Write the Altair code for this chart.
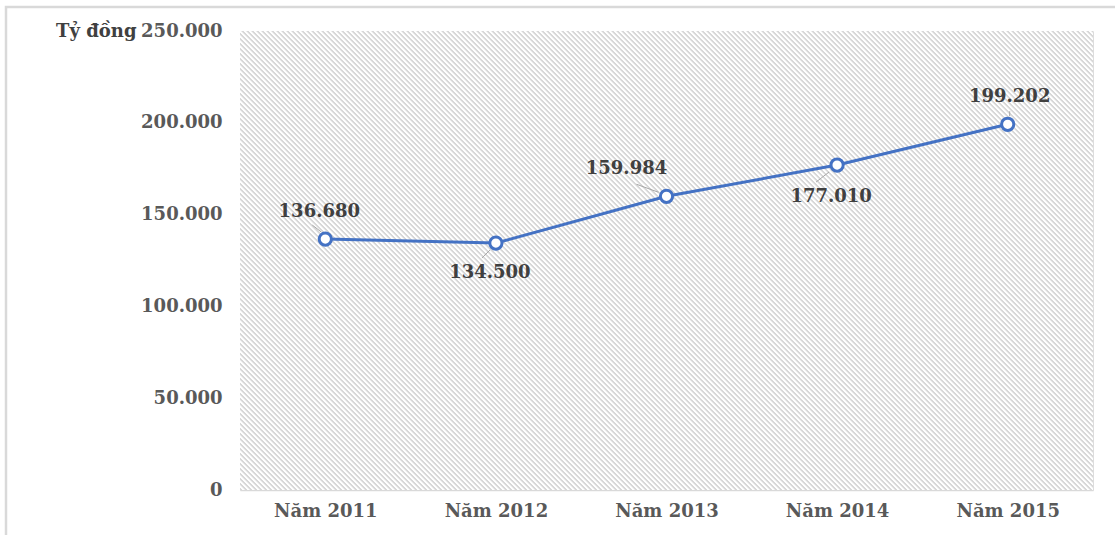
import altair as alt
import pandas as pd

years = ["Năm 2011", "Năm 2012", "Năm 2013", "Năm 2014", "Năm 2015"]
values = [136680, 134500, 159984, 177010, 199202]
labels = ["136.680", "134.500", "159.984", "177.010", "199.202"]

df = pd.DataFrame({"year": years, "value": values, "label": labels})

W, H = 853, 459
FONT = "DejaVu Serif"
BLUE = "#4472C4"

# label offsets (dx, dy) and leader line offsets (x1, y1, x2, y2) relative to point
label_off = [(-6, -27), (-6, 30), (-40, -27), (-6, 32), (2, -27)]
leader_off = [(-13, -14, -4, -7), (-14, 15, -6, 7), (-30, -12, -8, -4),
              (-21, 17, -8, 7), (2, -13, 2, -8)]

# diagonal hatch via a linear gradient (exact 5px horizontal period)
PER = 5.0
N = int((W + H) / PER) + 2
s = PER * N / (W + H * H / W)
x1g, y1g = 1.0, 0.0
x2g, y2g = 1.0 - s, s * H / W
gray, white = "#d8d8d8", "#ffffff"
stops = []
for i in range(N):
    stops += [alt.GradientStop(color=gray, offset=i / N),
              alt.GradientStop(color=gray, offset=(i + 0.2) / N),
              alt.GradientStop(color=white, offset=(i + 0.55) / N),
              alt.GradientStop(color=white, offset=(i + 0.8) / N)]
stops.append(alt.GradientStop(color=gray, offset=1.0))

one = pd.DataFrame({"a": [0]})
bg = alt.Chart(one).mark_rect(
    fill=alt.LinearGradient(gradient="linear", stops=stops,
                            x1=x1g, y1=y1g, x2=x2g, y2=y2g),
    stroke=None
).encode(x=alt.value(0), x2=alt.value(W), y=alt.value(0), y2=alt.value(H))

frame = alt.Chart(one).mark_rect(fill=None, stroke="#d9d9d9", strokeWidth=2.5, clip=False).encode(
    x=alt.value(-234), x2=alt.value(W + 60), y=alt.value(-24), y2=alt.value(H + 80)
)

xenc = alt.X("year:N", sort=years, scale=alt.Scale(type="point", padding=0.5),
             axis=alt.Axis(title=None, labelAngle=0, ticks=False, domain=True,
                           domainColor="#d9d9d9", domainWidth=1.5,
                           labelFont=FONT, labelFontSize=18, labelFontWeight="bold",
                           labelColor="#595959", labelPadding=12, grid=False))
yenc = alt.Y("value:Q", scale=alt.Scale(domain=[0, 250000], nice=False),
             axis=alt.Axis(title="Tỷ đồng", titleAngle=0, titleAlign="right",
                           titleBaseline="middle", titleX=-104, titleY=0,
                           titleFont=FONT, titleFontSize=18, titleFontWeight="bold",
                           titleColor="#404040",
                           values=[0, 50000, 100000, 150000, 200000, 250000],
                           labelExpr="replace(format(datum.value, ',d'), ',', '.')",
                           ticks=False, domain=False, grid=True,
                           gridColor="#ececec", gridWidth=1.2,
                           labelFont=FONT, labelFontSize=18, labelFontWeight="bold",
                           labelColor="#595959", labelPadding=18))

base = alt.Chart(df)
line = base.mark_line(color=BLUE, strokeWidth=3).encode(x=xenc, y=yenc)
pts = base.mark_point(shape="circle", filled=True, fill="white", stroke=BLUE,
                      strokeWidth=3, size=150, opacity=1).encode(x="year:N", y="value:Q")

layers = [bg, frame, line]
for i, yr in enumerate(years):
    sub = base.transform_filter(alt.datum.year == yr)
    lx1, ly1, lx2, ly2 = leader_off[i]
    layers.append(sub.mark_rule(color="#a6a6a6", strokeWidth=1,
                                xOffset=lx1, yOffset=ly1,
                                x2Offset=lx2, y2Offset=ly2).encode(
        x="year:N", y="value:Q", x2="year:N", y2="value:Q"))
layers.append(pts)
for i, yr in enumerate(years):
    sub = base.transform_filter(alt.datum.year == yr)
    dx, dy = label_off[i]
    layers.append(sub.mark_text(font=FONT, fontSize=18, fontWeight="bold",
                                color="#404040", dx=dx, dy=dy,
                                baseline="middle", align="center").encode(
        x="year:N", y="value:Q", text="label:N"))

chart = alt.layer(*layers).properties(
    width=W, height=H,
    autosize=alt.AutoSizeParams(type="none"),
    padding={"left": 240, "top": 31, "right": 22, "bottom": 45},
).configure_view(stroke=None).configure(background="white")

chart.save("out.html", embed_options={"renderer": "svg", "actions": False})
